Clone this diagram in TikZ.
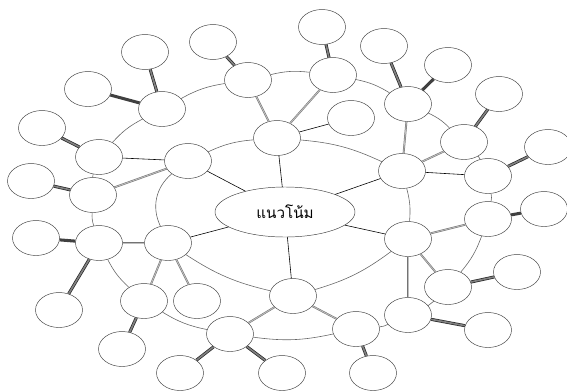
\documentclass[tikz,border=0pt]{standalone}
\usepackage{fontspec}
\newfontfamily\thaifont[Script=Thai]{Loma}
\usetikzlibrary{shapes.geometric}

\begin{document}
\begin{tikzpicture}[x=0.03cm,y=-0.03cm,semithick]
  \tikzstyle{bubble}=[ellipse,draw=black!75,fill=white,thin,
                      minimum width=1.41cm,minimum height=1.05cm,inner sep=0pt]
  \tikzstyle{ring}=[draw=black!60,line width=0.5pt,bend left=10]
  \tikzstyle{link}=[draw=black,line width=0.5pt]
  \tikzstyle{dbl}=[draw=black!55,line width=0.45pt,double=black!25,double distance=0.7pt]
  \tikzstyle{trpl}=[draw=black!85,line width=0.6pt,double=black!50,double distance=1.4pt]
  \tikzstyle{thk}=[draw=black!75,line width=2.6pt]

  \useasboundingbox (0,0) rectangle (567,390);

  % centre
  \node[ellipse,draw=black!75,thin,minimum width=4.2cm,minimum height=1.5cm]
       (hub) at (285,212) {\thaifont\fontsize{13}{15}\selectfont แนวโน้ม};

  % inner ring
  \node[bubble] (in1) at (188,161) {};
  \node[bubble] (in2) at (277,138) {};
  \node[bubble] (in3) at (402,171) {};
  \node[bubble] (in4) at (408,239) {};
  \node[bubble] (in5) at (293,296) {};
  \node[bubble] (in6) at (168,243) {};

  % outer ring
  \node[bubble] (out1)  at (162,109) {};
  \node[bubble] (out2)  at (248,80)  {};
  \node[bubble] (out3)  at (333,75)  {};
  \node[bubble] (out4)  at (408,104) {};
  \node[bubble] (out5)  at (464,142) {};
  \node[bubble] (out6)  at (488,176) {};
  \node[bubble] (out7)  at (488,219) {};
  \node[bubble] (out8)  at (448,287) {};
  \node[bubble] (out9)  at (408,315) {};
  \node[bubble] (out10) at (356,329) {};
  \node[bubble] (out11) at (230,334) {};
  \node[bubble] (out12) at (144,301) {};
  \node[bubble] (out13) at (99,243)  {};
  \node[bubble] (out14) at (93,195)  {};
  \node[bubble] (out15) at (99,157)  {};

  % leaves
  \node[bubble] (lf1)  at (145,52)  {};
  \node[bubble] (lf2)  at (88,89)   {};
  \node[bubble] (lf3)  at (42,128)  {};
  \node[bubble] (lf4)  at (31,181)  {};
  \node[bubble] (lf5)  at (213,42)  {};
  \node[bubble] (lf6)  at (351,118) {};
  \node[bubble] (lf7)  at (322,27)  {};
  \node[bubble] (lf8)  at (384,46)  {};
  \node[bubble] (lf9)  at (448,65)  {};
  \node[bubble] (lf10) at (499,94)  {};
  \node[bubble] (lf11) at (548,147) {};
  \node[bubble] (lf12) at (544,209) {};
  \node[bubble] (lf13) at (517,272) {};
  \node[bubble] (lf14) at (488,330) {};
  \node[bubble] (lf15) at (373,373) {};
  \node[bubble] (lf16) at (282,373) {};
  \node[bubble] (lf17) at (180,373) {};
  \node[bubble] (lf18) at (122,349) {};
  \node[bubble] (lf19) at (197,301) {};
  \node[bubble] (lf20) at (59,310)  {};
  \node[bubble] (lf21) at (36,238)  {};

  % rings
  \path (in1) edge[ring] (in2)
        (in2) edge[ring] (in3)
        (in3) edge[ring] (in4)
        (in4) edge[ring] (in5)
        (in5) edge[ring] (in6)
        (in6) edge[ring,bend left=38] (in1);
  \path (out1) edge[ring] (out2)  (out2) edge[ring] (out3)
        (out3) edge[ring] (out4)  (out4) edge[ring] (out5)
        (out5) edge[ring] (out6)  (out6) edge[ring] (out7)
        (out7) edge[ring] (out8)  (out8) edge[ring] (out9)
        (out9) edge[ring] (out10) (out10) edge[ring] (out11)
        (out11) edge[ring] (out12) (out12) edge[ring] (out13)
        (out13) edge[ring] (out14) (out14) edge[ring] (out15)
        (out15) edge[ring] (out1);

  % spokes
  \path (hub) edge[link] (in1) edge[link] (in2) edge[link] (in3)
              edge[link] (in4) edge[link] (in5) edge[link] (in6);

  \path (in1) edge[link] (out15) edge[dbl] (out14)
        (in2) edge[dbl] (out2) edge[dbl] (out3) edge[link] (lf6)
        (in3) edge[dbl] (out4) edge[dbl] (out5) edge[link] (out6)
        (in4) edge[dbl] (out7) edge[dbl] (out8) edge[dbl] (out9)
        (in5) edge[dbl] (out10) edge[dbl] (out11)
        (in6) edge[dbl] (out12) edge[dbl] (lf19) edge[dbl] (out13);

  \path (out1) edge[trpl] (lf1) edge[thk] (lf2)
        (out15) edge[trpl] (lf3)
        (out14) edge[trpl] (lf4)
        (out2) edge[trpl] (lf5)
        (out3) edge[trpl] (lf7)
        (out4) edge[trpl] (lf8) edge[thk] (lf9)
        (out5) edge[trpl] (lf10)
        (out6) edge[trpl] (lf11)
        (out7) edge[thk] (lf12)
        (out8) edge[trpl] (lf13)
        (out9) edge[trpl] (lf14)
        (out10) edge[trpl] (lf15)
        (out11) edge[trpl] (lf16) edge[trpl] (lf17)
        (out12) edge[trpl] (lf18)
        (out13) edge[thk] (lf21) edge[trpl] (lf20);
\end{tikzpicture}
\end{document}
